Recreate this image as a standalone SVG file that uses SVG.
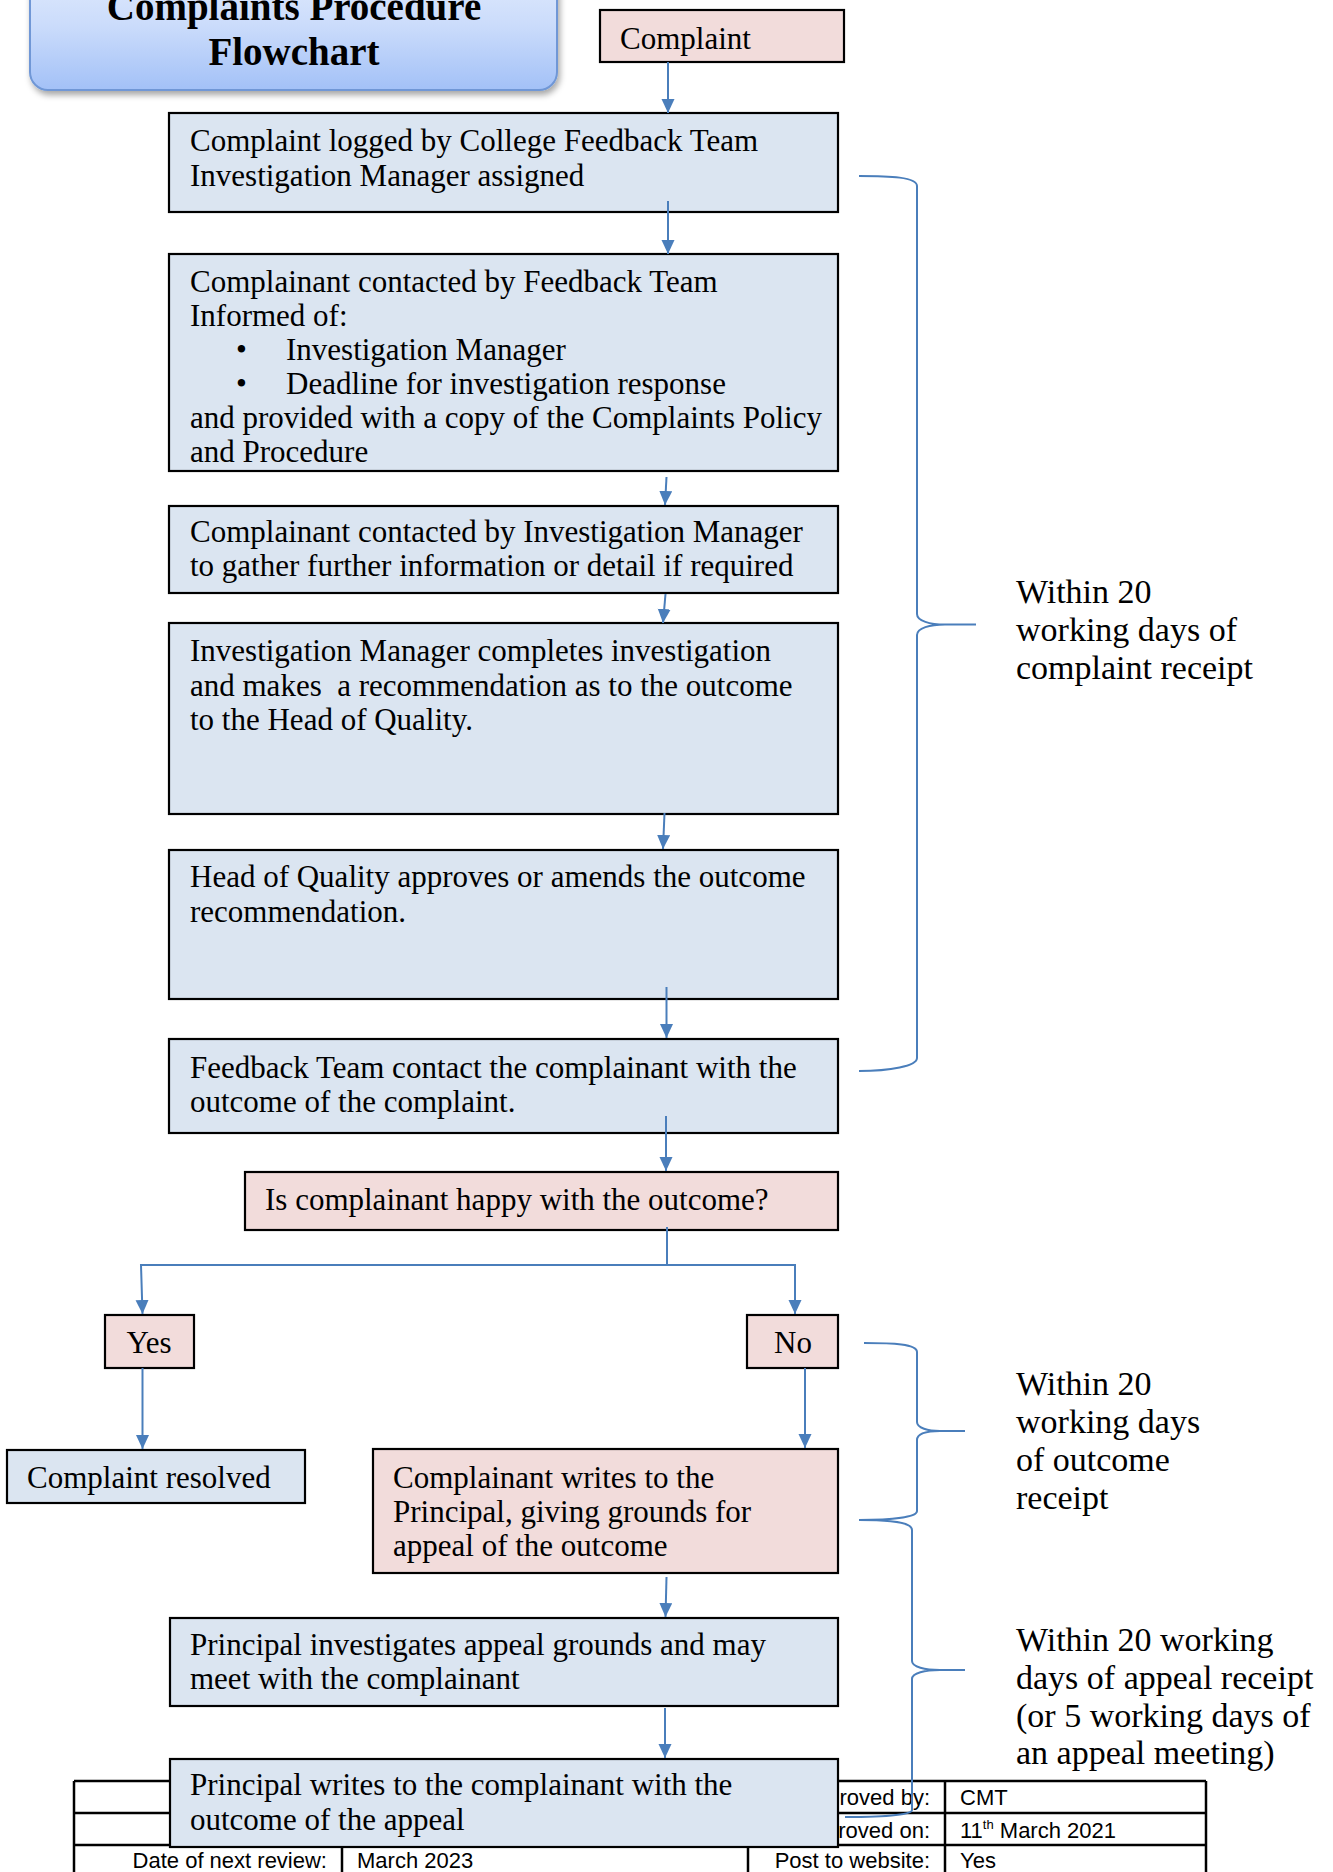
<svg xmlns="http://www.w3.org/2000/svg" width="1333" height="1872" viewBox="0 0 1333 1872">
<style>
.box{stroke:#000;stroke-width:2.2}
.blue{fill:#dbe5f1}
.pink{fill:#f2dcdb}
.t{font-family:"Liberation Serif","Times New Roman",serif;font-size:31px;fill:#000}
.side{font-family:"Liberation Serif","Times New Roman",serif;font-size:34px;fill:#000}
.title{font-family:"Liberation Serif","Times New Roman",serif;font-size:39px;font-weight:bold;fill:#000}
.tbl{font-family:"Liberation Sans",Arial,sans-serif;font-size:22px;fill:#000}
.tl{stroke:#000;stroke-width:2.5;fill:none}
.conn{stroke:#4a7ebb;stroke-width:2;fill:none}
.brace{stroke:#4a7ebb;stroke-width:2;fill:none}
</style>
<defs>
<marker id="arr" markerUnits="userSpaceOnUse" markerWidth="14" markerHeight="14" refX="14" refY="6.5" orient="auto">
<path d="M0,0 L14,6.5 L0,13 z" fill="#4a7ebb"/>
</marker>
<linearGradient id="tg" x1="0" y1="0" x2="0" y2="1">
<stop offset="0" stop-color="#e4edfd"/>
<stop offset="0.5" stop-color="#cbdcfb"/>
<stop offset="1" stop-color="#a3c1f7"/>
</linearGradient>
<filter id="sh" x="-10%" y="-10%" width="120%" height="130%">
<feDropShadow dx="2" dy="4" stdDeviation="3" flood-color="#000" flood-opacity="0.35"/>
</filter>
<clipPath id="clipB"><rect x="169" y="254" width="669" height="208"/></clipPath>
</defs>

<g id="footer-table">
<line class="tl" x1="74" y1="1781" x2="1206" y2="1781"/>
<line class="tl" x1="74" y1="1813" x2="1206" y2="1813"/>
<line class="tl" x1="74" y1="1845" x2="1206" y2="1845"/>
<line class="tl" x1="74" y1="1781" x2="74" y2="1872"/>
<line class="tl" x1="1206" y1="1781" x2="1206" y2="1872"/>
<line class="tl" x1="945" y1="1781" x2="945" y2="1872"/>
<line class="tl" x1="342" y1="1845" x2="342" y2="1872"/>
<line class="tl" x1="748" y1="1845" x2="748" y2="1872"/>
<text class="tbl" x="930" y="1805" text-anchor="end">roved by:</text>
<text class="tbl" x="960" y="1805">CMT</text>
<text class="tbl" x="930" y="1838" text-anchor="end">roved on:</text>
<text class="tbl" x="960" y="1838">11<tspan font-size="13" dy="-9">th</tspan><tspan dy="9"> March 2021</tspan></text>
<text class="tbl" x="327" y="1868" text-anchor="end">Date of next review:</text>
<text class="tbl" x="357" y="1868">March 2023</text>
<text class="tbl" x="930" y="1868" text-anchor="end">Post to website:</text>
<text class="tbl" x="960" y="1868">Yes</text>
</g>

<g id="title">
<rect x="30" y="-40" width="527" height="130" rx="18" fill="url(#tg)" stroke="#6f97d6" stroke-width="2" filter="url(#sh)"/>
<text class="title" x="294" y="20" text-anchor="middle">Complaints Procedure</text>
<text class="title" x="294" y="65" text-anchor="middle">Flowchart</text>
</g>

<g id="n-complaint">
<rect class="box pink" x="600" y="10" width="244" height="52"/>
<text class="t" x="620" y="49">Complaint</text>
</g>

<g id="n-logged">
<rect class="box blue" x="169" y="113" width="669" height="99"/>
<text class="t" x="190" y="151">Complaint logged by College Feedback Team</text>
<text class="t" x="190" y="186">Investigation Manager assigned</text>
</g>

<g id="n-contacted">
<rect class="box blue" x="169" y="254" width="669" height="217"/>
<g clip-path="url(#clipB)">
<text class="t" x="190" y="292">Complainant contacted by Feedback Team</text>
<text class="t" x="190" y="326">Informed of:</text>
<text class="t" x="236" y="360">•</text>
<text class="t" x="286" y="360">Investigation Manager</text>
<text class="t" x="236" y="394">•</text>
<text class="t" x="286" y="394">Deadline for investigation response</text>
<text class="t" x="190" y="428">and provided with a copy of the Complaints Policy</text>
<text class="t" x="190" y="462">and Procedure</text>
</g>
</g>

<g id="n-gather">
<rect class="box blue" x="169" y="506" width="669" height="87"/>
<text class="t" x="190" y="542">Complainant contacted by Investigation Manager</text>
<text class="t" x="190" y="576">to gather further information or detail if required</text>
</g>

<g id="n-investigate">
<rect class="box blue" x="169" y="623" width="669" height="191"/>
<text class="t" x="190" y="661">Investigation Manager completes investigation</text>
<text class="t" x="190" y="696" xml:space="preserve">and makes  a recommendation as to the outcome</text>
<text class="t" x="190" y="730">to the Head of Quality.</text>
</g>

<g id="n-approve">
<rect class="box blue" x="169" y="850" width="669" height="149"/>
<text class="t" x="190" y="887">Head of Quality approves or amends the outcome</text>
<text class="t" x="190" y="922">recommendation.</text>
</g>

<g id="n-feedback">
<rect class="box blue" x="169" y="1039" width="669" height="94"/>
<text class="t" x="190" y="1078">Feedback Team contact the complainant with the</text>
<text class="t" x="190" y="1112">outcome of the complaint.</text>
</g>

<g id="n-happy">
<rect class="box pink" x="245" y="1172" width="593" height="58"/>
<text class="t" x="265" y="1210">Is complainant happy with the outcome?</text>
</g>

<g id="n-yes">
<rect class="box pink" x="105" y="1315" width="89" height="53"/>
<text class="t" x="149" y="1353" text-anchor="middle">Yes</text>
</g>

<g id="n-no">
<rect class="box pink" x="747" y="1315" width="91" height="53"/>
<text class="t" x="793" y="1353" text-anchor="middle">No</text>
</g>

<g id="n-resolved">
<rect class="box blue" x="7" y="1450" width="298" height="53"/>
<text class="t" x="27" y="1488">Complaint resolved</text>
</g>

<g id="n-appeal">
<rect class="box pink" x="373" y="1449" width="465" height="124"/>
<text class="t" x="393" y="1488">Complainant writes to the</text>
<text class="t" x="393" y="1522">Principal, giving grounds for</text>
<text class="t" x="393" y="1556">appeal of the outcome</text>
</g>

<g id="n-principal-investigates">
<rect class="box blue" x="170" y="1618" width="668" height="88"/>
<text class="t" x="190" y="1655">Principal investigates appeal grounds and may</text>
<text class="t" x="190" y="1689">meet with the complainant</text>
</g>

<g id="n-principal-writes">
<rect class="box blue" x="170" y="1759" width="668" height="88"/>
<text class="t" x="190" y="1795">Principal writes to the complainant with the</text>
<text class="t" x="190" y="1830">outcome of the appeal</text>
</g>

<g id="connectors">
<path class="conn" d="M668,62 L668,113" marker-end="url(#arr)"/>
<path class="conn" d="M668,201 L668,254" marker-end="url(#arr)"/>
<path class="conn" d="M666.5,477 L665,505" marker-end="url(#arr)"/>
<path class="conn" d="M665.5,594 L663,623" marker-end="url(#arr)"/>
<path class="conn" d="M664.5,813 L663,849" marker-end="url(#arr)"/>
<path class="conn" d="M666.5,987 L666.5,1038" marker-end="url(#arr)"/>
<path class="conn" d="M666,1116 L666,1171" marker-end="url(#arr)"/>
<path class="conn" d="M667,1227 L667,1265 L141,1265 L142.5,1314" marker-end="url(#arr)"/>
<path class="conn" d="M667,1265 L795,1265 L795,1314" marker-end="url(#arr)"/>
<path class="conn" d="M142.5,1368 L142.5,1449" marker-end="url(#arr)"/>
<path class="conn" d="M805,1368 L805,1448" marker-end="url(#arr)"/>
<path class="conn" d="M666.5,1577 L665.5,1617" marker-end="url(#arr)"/>
<path class="conn" d="M665,1708 L665,1758" marker-end="url(#arr)"/>
</g>

<g id="braces">
<path class="brace" d="M859,176 C890,176 917,177 917,186 L917,614 C917,621 930,624.5 945,624.5 L976,624.5 M945,624.5 C930,624.5 917,628 917,635 L917,1058 C917,1066 890,1071 859,1071"/>
<path class="brace" d="M864,1343 C893,1343 917,1344 917,1352 L917,1422 C917,1428 928,1431 940,1431 L965,1431 M940,1431 C928,1431 917,1433 917,1440 L917,1511 C917,1517 893,1520 859,1520"/>
<path class="brace" d="M859,1520 C890,1520 912,1522 912,1530 L912,1661 C912,1667 925,1670 940,1670 L965,1670 M940,1670 C925,1670 912,1673 912,1679 L912,1810 C912,1815 880,1817 845,1817"/>
</g>

<g id="notes">
<text class="side" x="1016" y="603">Within 20</text>
<text class="side" x="1016" y="641">working days of</text>
<text class="side" x="1016" y="679">complaint receipt</text>
<text class="side" x="1016" y="1395">Within 20</text>
<text class="side" x="1016" y="1433">working days</text>
<text class="side" x="1016" y="1471">of outcome</text>
<text class="side" x="1016" y="1509">receipt</text>
<text class="side" x="1016" y="1651">Within 20 working</text>
<text class="side" x="1016" y="1689">days of appeal receipt</text>
<text class="side" x="1016" y="1727">(or 5 working days of</text>
<text class="side" x="1016" y="1764">an appeal meeting)</text>
</g>
</svg>
